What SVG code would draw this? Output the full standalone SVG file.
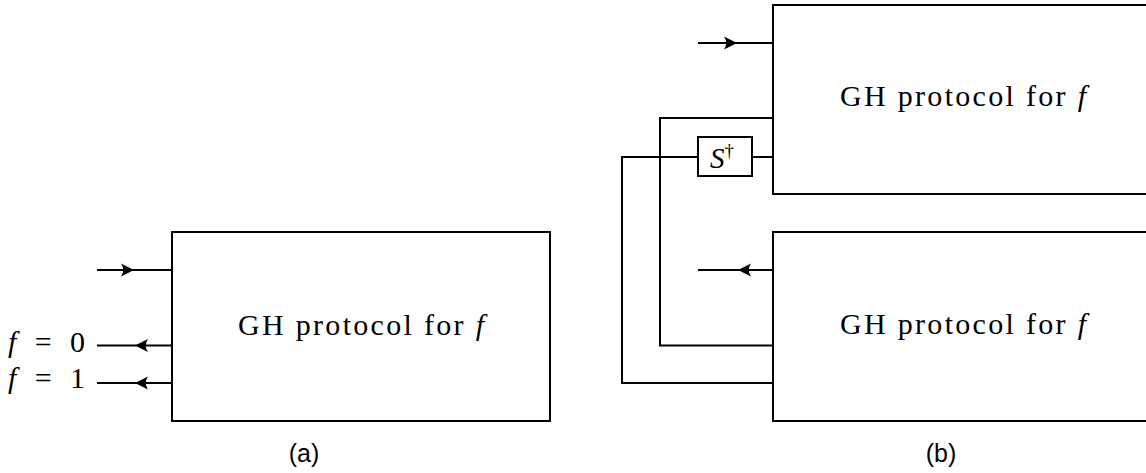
<svg xmlns="http://www.w3.org/2000/svg" width="1146" height="473" viewBox="0 0 1146 473">
<style>
.box{fill:#fff;stroke:#000;stroke-width:2}
.wire{fill:none;stroke:#000;stroke-width:2}
</style>
<defs>
<marker id="ah" viewBox="-15 -8 16 16" refX="0" refY="0" markerWidth="16" markerHeight="16" markerUnits="userSpaceOnUse" orient="auto">
<path d="M0,0 L-13,-6.5 Q-8.5,0 -13,6.5 Z" fill="#000"/>
</marker>
</defs>
<rect width="1146" height="473" fill="#fff"/>
<g id="connectors">
<path class="wire" d="M97,270 L134,270 L172,270" marker-mid="url(#ah)"/>
<path class="wire" d="M172,345.5 L135,345.5 L97,345.5" marker-mid="url(#ah)"/>
<path class="wire" d="M172,383 L135,383 L97,383" marker-mid="url(#ah)"/>
<path class="wire" d="M698,43 L737,43 L773,43" marker-mid="url(#ah)"/>
<path class="wire" d="M773,270 L738,270 L698,270" marker-mid="url(#ah)"/>
<path class="wire" d="M773,118 H660 V345.5 H773"/>
<path class="wire" d="M773,157 H752"/>
<path class="wire" d="M698,157 H622 V383 H773"/>
</g>
<g font-family="'Liberation Serif', 'DejaVu Serif', serif" font-size="30" fill="#000">
<g id="node-a">
<rect class="box" x="172" y="232" width="378" height="189"/>
<text x="238" y="335" textLength="246" lengthAdjust="spacing">GH protocol for <tspan font-style="italic">f</tspan></text>
</g>
<g id="label-f0">
<text x="8" y="352" textLength="77" lengthAdjust="spacing"><tspan font-style="italic">f</tspan> = 0</text>
</g>
<g id="label-f1">
<text x="8" y="388" textLength="77" lengthAdjust="spacing"><tspan font-style="italic">f</tspan> = 1</text>
</g>
<g id="node-b-top">
<rect class="box" x="773" y="5" width="380" height="189"/>
<text x="840" y="106" textLength="246" lengthAdjust="spacing">GH protocol for <tspan font-style="italic">f</tspan></text>
</g>
<g id="node-b-bottom">
<rect class="box" x="773" y="232" width="380" height="189"/>
<text x="840" y="334" textLength="246" lengthAdjust="spacing">GH protocol for <tspan font-style="italic">f</tspan></text>
</g>
<g id="node-sdagger">
<rect class="box" x="698" y="137" width="54" height="39"/>
<text x="710" y="168" font-size="29"><tspan font-style="italic">S</tspan><tspan font-size="19" dy="-11">†</tspan></text>
</g>
</g>
<g id="captions" font-family="'Liberation Sans', Arial, sans-serif" font-size="25" fill="#000">
<text x="304" y="462" text-anchor="middle">(a)</text>
<text x="941" y="462" text-anchor="middle">(b)</text>
</g>
</svg>
